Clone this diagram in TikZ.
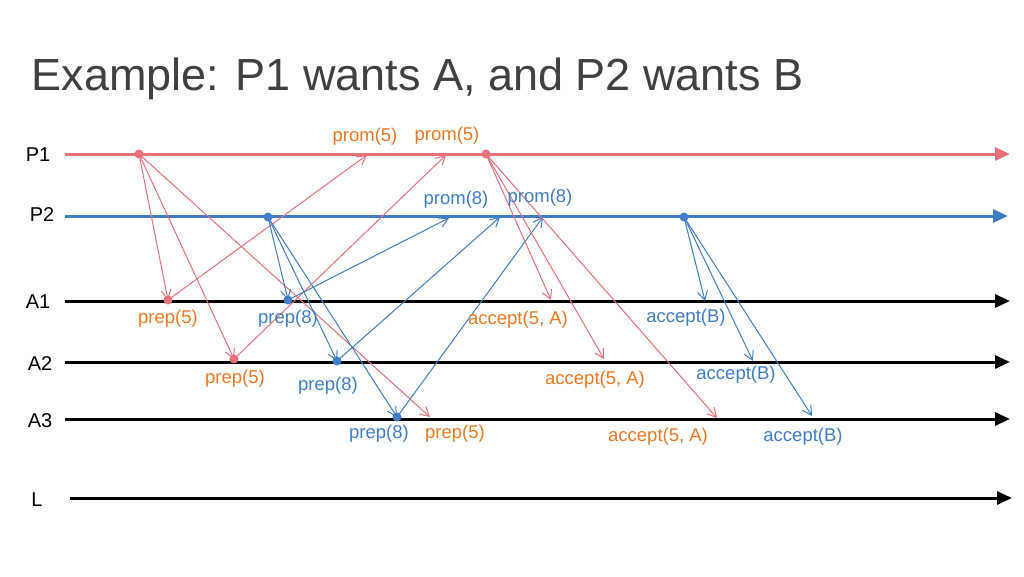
\documentclass[tikz,border=0pt]{standalone}
\usepackage{fontspec}
\setmainfont{Liberation Sans}
\usetikzlibrary{arrows.meta}
\definecolor{rr}{HTML}{E8707A}
\definecolor{bb}{HTML}{3F7EC6}
\definecolor{oo}{HTML}{EE7722}
\definecolor{tt}{HTML}{404040}
\begin{document}
\begin{tikzpicture}[x=1pt,y=-1pt,
  lane/.style={line width=3pt,-{Triangle[length=15pt,width=13pt]}},
  msgr/.style={rr,line width=1pt,-{Straight Barb[length=9pt,width=10pt]}},
  msgb/.style={bb,line width=1pt,-{Straight Barb[length=9pt,width=10pt]}},
  dotr/.style={circle,fill=rr,inner sep=0pt,minimum size=9pt},
  dotb/.style={circle,fill=bb,inner sep=0pt,minimum size=9pt},
  lab/.style={font=\fontsize{18.5}{18.5}\selectfont},
  tag/.style={font=\fontsize{20}{20}\selectfont,text=black}]
\useasboundingbox (0,0) rectangle (1024,576);
\node[anchor=base west,text=tt,font=\fontsize{45}{45}\selectfont] (title) at (28,90) {Example: P1 wants A, and P2 wants B};
% lane labels
\node[tag] (tP1) at (38,155) {P1};
\node[tag] (tP2) at (42,215) {P2};
\node[tag] (tA1) at (38,302) {A1};
\node[tag] (tA2) at (40,364) {A2};
\node[tag] (tA3) at (40,421) {A3};
\node[tag] (tL) at (37,500) {L};
% lane endpoints
\coordinate (p1s) at (65,154); \coordinate (p1e) at (1010,154);
\coordinate (p2s) at (65,216); \coordinate (p2e) at (1008,216);
\coordinate (a1s) at (65,301); \coordinate (a1e) at (1010,301);
\coordinate (a2s) at (65,362); \coordinate (a2e) at (1010,362);
\coordinate (a3s) at (65,419); \coordinate (a3e) at (1010,419);
\coordinate (ls) at (70,498); \coordinate (le) at (1012,498);
\draw[lane,rr] (p1s) -- (p1e);
\draw[lane,bb] (p2s) -- (p2e);
\draw[lane,black] (a1s) -- (a1e);
\draw[lane,black] (a2s) -- (a2e);
\draw[lane,black] (a3s) -- (a3e);
\draw[lane,black] (ls) -- (le);
% dots
\node[dotr] (r1) at (139,154) {};
\node[dotr] (r2) at (486,154) {};
\node[dotb] (b1) at (268,217) {};
\node[dotb] (b2) at (684,217) {};
\node[dotr] (ra1) at (168,300) {};
\node[dotr] (ra2) at (234,359) {};
\node[dotb] (ba1) at (288,300) {};
\node[dotb] (ba2) at (337,361) {};
\node[dotb] (ba3) at (397,417) {};
% arrow targets
\coordinate (ra3) at (430,417);
\coordinate (pr1) at (367,155);
\coordinate (pr2) at (446,155);
\coordinate (pb1) at (449,218);
\coordinate (pb2) at (500,217);
\coordinate (pb3) at (543,217);
\coordinate (ca1) at (551,300);
\coordinate (ca2) at (604,359);
\coordinate (ca3) at (717,418);
\coordinate (cb1) at (705,301);
\coordinate (cb2) at (753,361);
\coordinate (cb3) at (812,416);
% messages
\draw[msgr] (r1.center) -- (ra1.center);
\draw[msgr] (r1.center) -- (ra2.center);
\draw[msgr] (r1.center) -- (ra3);
\draw[msgr] (ra1.center) -- (pr1);
\draw[msgr] (ra2.center) -- (pr2);
\draw[msgb] (b1.center) -- (ba1.center);
\draw[msgb] (b1.center) -- (ba2.center);
\draw[msgb] (b1.center) -- (ba3.center);
\draw[msgb] (ba1.center) -- (pb1);
\draw[msgb] (ba2.center) -- (pb2);
\draw[msgb] (ba3.center) -- (pb3);
\draw[msgr] (r2.center) -- (ca1);
\draw[msgr] (r2.center) -- (ca2);
\draw[msgr] (r2.center) -- (ca3);
\draw[msgb] (b2.center) -- (cb1);
\draw[msgb] (b2.center) -- (cb2);
\draw[msgb] (b2.center) -- (cb3);
% labels
\node[lab,text=oo] (l1) at (365,137) {prom(5)};
\node[lab,text=oo] (l2) at (447,136) {prom(5)};
\node[lab,text=bb] (l3) at (456,200) {prom(8)};
\node[lab,text=bb] (l4) at (540,198) {prom(8)};
\node[lab,text=oo] (l5) at (168,319) {prep(5)};
\node[lab,text=bb] (l6) at (288,319) {prep(8)};
\node[lab,text=oo] (l7) at (235,379) {prep(5)};
\node[lab,text=bb] (l8) at (328,386) {prep(8)};
\node[lab,text=bb] (l9) at (379,434) {prep(8)};
\node[lab,text=oo] (l10) at (455,434) {prep(5)};
\node[lab,text=oo] (l11) at (518,320) {accept(5, A)};
\node[lab,text=oo] (l12) at (595,380) {accept(5, A)};
\node[lab,text=oo] (l13) at (658,437) {accept(5, A)};
\node[lab,text=bb] (l14) at (686,318) {accept(B)};
\node[lab,text=bb] (l15) at (736,375) {accept(B)};
\node[lab,text=bb] (l16) at (803,437) {accept(B)};
\end{tikzpicture}
\end{document}
